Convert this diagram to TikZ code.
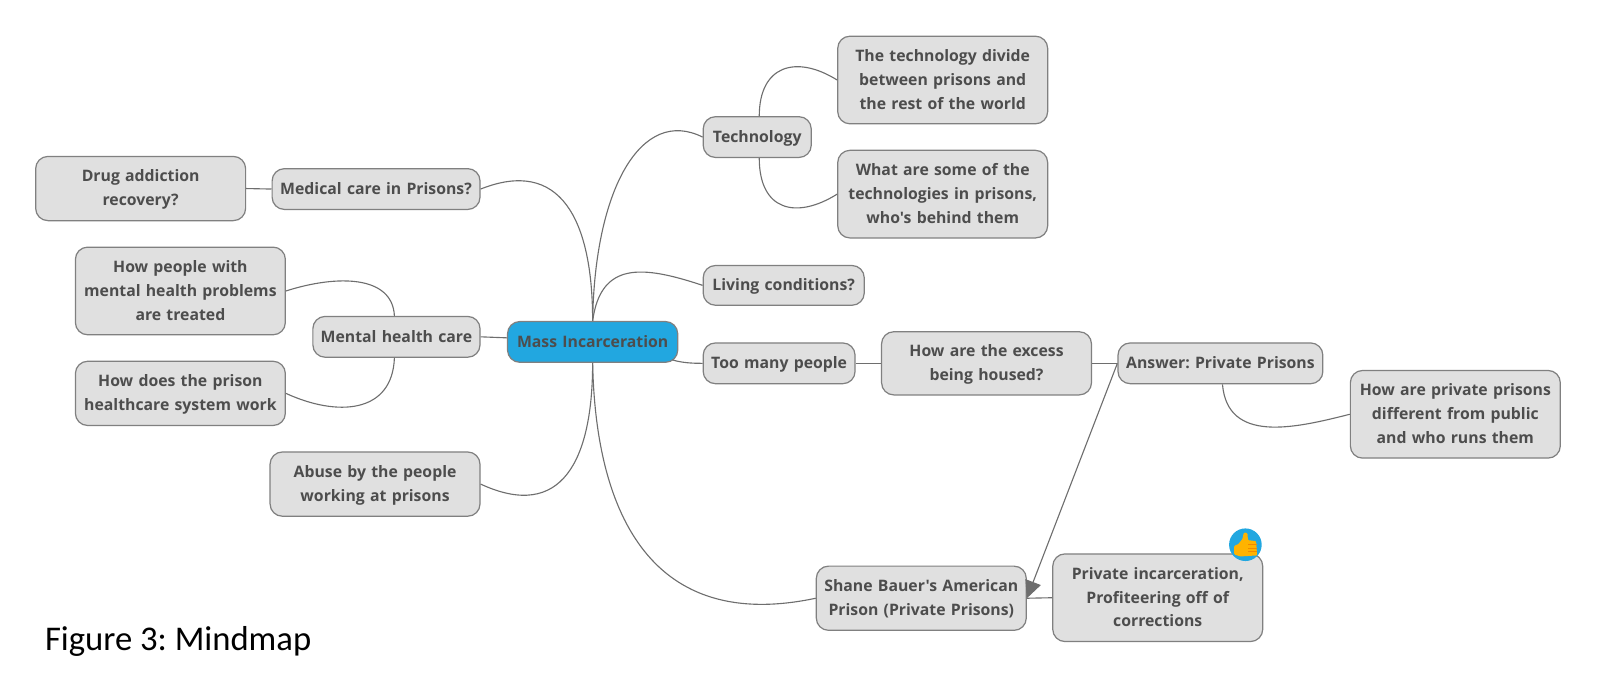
\documentclass[tikz,border=0pt]{standalone}
\usepackage{fontspec}
\defaultfontfeatures[\rmfamily]{}
\setmainfont{Open Sans}
\newfontfamily\capfont{Carlito}
\usetikzlibrary{arrows.meta}
\frenchspacing
\definecolor{tx}{HTML}{4D4D4D}
\definecolor{bd}{HTML}{808080}
\definecolor{fl}{HTML}{E0E0E0}
\definecolor{bl}{HTML}{22A7E0}
\definecolor{ln}{HTML}{6E6E6E}
\definecolor{thumbc}{HTML}{FFB300}
\definecolor{thumbd}{HTML}{F08A00}
\tikzset{
  topic/.style={draw=bd,fill=fl,line width=1.2pt,rounded corners=12pt,inner sep=0pt,align=center,text=tx,
    font=\fontsize{15.5}{23.5}\selectfont\bfseries},
  rootnode/.style={topic,fill=bl},
  conn/.style={draw=ln,line width=1.1pt},
}
\newcommand{\mapnode}[7][topic]{\node[#1,minimum width=#4pt-#2pt,minimum height=#5pt-#3pt,text width=#4pt-#2pt-4pt] (#6) at ({(#2+#4)/2},{(#3+#5)/2+0.5}) {\rule[-0.3\baselineskip]{0pt}{\dimexpr\baselineskip+1pt\relax}#7\strut};}
\begin{document}
\begin{tikzpicture}[x=1pt,y=-1pt]
\useasboundingbox (0,0) rectangle (1568,666.2);
\mapnode[rootnode]{498}{315}{665}{355}{root}{Mass Incarceration}
\mapnode{690}{114}{796}{154}{tech}{Technology}
\mapnode{822}{35}{1028}{121}{techa}{The technology divide\\between prisons and\\the rest of the world}
\mapnode{822}{147}{1028}{233}{techb}{What are some of the\\technologies in prisons,\\who's behind them}
\mapnode{690}{260}{848}{299}{living}{Living conditions?}
\mapnode{690}{336}{839}{376}{many}{Too many people}
\mapnode{865}{325}{1071}{387}{excess}{How are the excess\\being housed?}
\mapnode{1097}{336}{1298}{376}{answer}{Answer: Private Prisons}
\mapnode{1325}{363}{1531}{449}{diff}{How are private prisons\\different from public\\and who runs them}
\mapnode{801}{555}{1007}{618}{shane}{Shane Bauer's American\\Prison (Private Prisons)}
\mapnode{1033}{543}{1239}{629}{profit}{Private incarceration,\\Profiteering off of\\corrections}
\mapnode{267}{165}{471}{205}{medical}{Medical care in Prisons?}
\mapnode{35}{153}{241}{216}{drug}{Drug addiction\\recovery?}
\mapnode{307}{310}{471}{350}{mental}{Mental health care}
\mapnode{74}{242}{280}{328}{people}{How people with\\mental health problems\\are treated}
\mapnode{74}{354}{280}{417}{system}{How does the prison\\healthcare system work}
\mapnode{265}{443}{471}{506}{abuse}{Abuse by the people\\working at prisons}
\draw[conn] (root.north) .. controls +(2,-130) and +(-60,-30) .. (tech.west);
\draw[conn] (root.north) .. controls +(0,-100) and +(78,-31) .. (medical.east);
\draw[conn] (root.north) .. controls +(8,-58) and +(-60,-20) .. (living.west);
\draw[conn] ([yshift=4pt]root.west) -- (mental.east);
\draw[conn] ([xshift=-6pt,yshift=3pt]root.south east) .. controls +(10,3) and +(-10,0) .. (many.west);
\draw[conn] (root.south) .. controls +(0,95) and +(80,37) .. (abuse.east);
\draw[conn] (root.south) .. controls +(3,150) and +(-160,34) .. (shane.west);
\draw[conn] ([xshift=2pt]tech.north) .. controls +(0,-50) and +(-40,-25) .. (techa.west);
\draw[conn] ([xshift=2pt]tech.south) .. controls +(0,52) and +(-40,25) .. (techb.west);
\draw[conn] ([xshift=-2pt]mental.north) .. controls +(-2,-40) and +(50,-16) .. (people.east);
\draw[conn] ([xshift=-2pt]mental.south) .. controls +(-2,55) and +(50,23) .. (system.east);
\draw[conn] (medical.west) -- (drug.east);
\draw[conn] (many.east) -- (excess.west);
\draw[conn] (excess.east) -- (answer.west);
\draw[conn] ([xshift=2pt]answer.south) .. controls +(5,58) and +(-55,14) .. (diff.west);
\draw[conn] (shane.east) -- (profit.west);
\draw[conn,-{Triangle[length=17pt,width=16pt,fill=ln]}] (answer.west) -- (shane.east);
\node[circle,fill=bl,minimum size=32pt,inner sep=0pt] (badge) at (1222,534.5) {};
\fill[thumbc,rounded corners=1pt] (1211,535.5) -- (1215,534) -- (1219,529) -- (1220.5,522.5) -- (1224,523) -- (1224.5,530) -- (1232.5,531) -- (1233.5,545) -- (1217,546) -- (1211,544) -- cycle;
\draw[thumbd,line width=0.9pt] (1225,534.5) -- (1233,534.5) (1225,538) -- (1233.5,538) (1225,541.5) -- (1233.5,541.5);
\node[anchor=west,inner sep=0pt,text=black,font=\capfont\fontsize{34}{36}\selectfont] (caption) at (44,629.5) {Figure 3: Mindmap};
\end{tikzpicture}
\end{document}
